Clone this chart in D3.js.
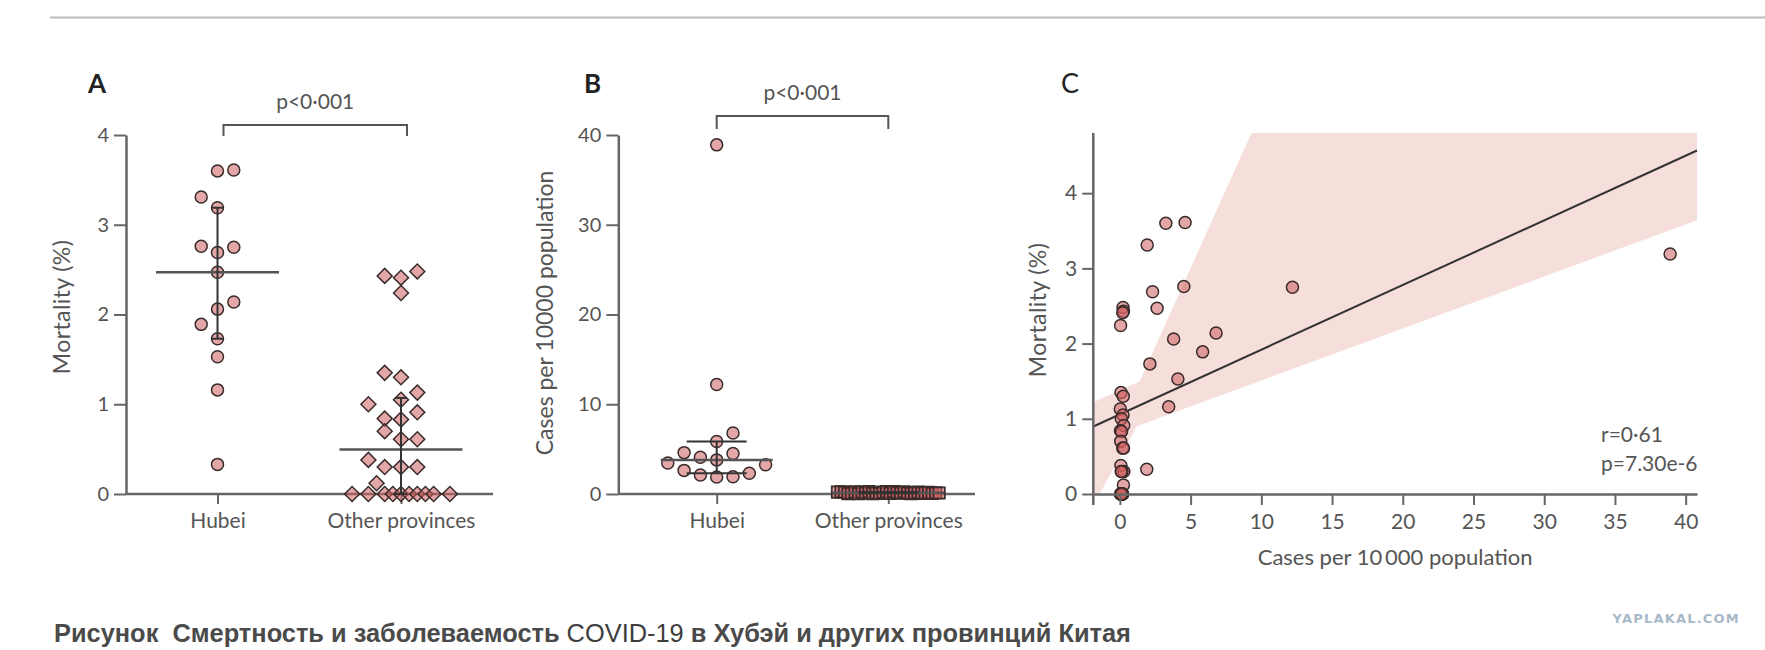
<!DOCTYPE html>
<html>
<head>
<meta charset="utf-8">
<script src="https://cdn.jsdelivr.net/npm/d3@7"></script>
<style>
  body { margin: 0; background: #fff; }
  svg text { font-family: Lato, "Open Sans", sans-serif; fill: #555; }
  .axis text { font-size: 20px; fill: #555; }
  .axis line { stroke: #666; stroke-width: 2; }
  .axis path { stroke: #666; stroke-width: 2.5; }
</style>
</head>
<body>
<svg id="chart" width="1765" height="650"></svg>
<script>
// Hubei cities: cases per 10 000 and mortality (%), same order in both arrays
var hubeiCases     = [4.61, 3.25, 1.93, 38.9, 4.52, 12.2, 2.31, 2.63, 6.8, 3.8, 5.85, 2.12, 4.1, 3.45, 1.9];
var hubeiMortality = [3.61, 3.60, 3.31, 3.19, 2.76, 2.75, 2.69, 2.47, 2.14, 2.06, 1.89, 1.73, 1.53, 1.16, 0.33];
var hubeiSlotA = [1, 0, -1, 0, -1, 1, 0, 0, 1, 0, -1, 0, 0, 0, 0];
var hubeiSlotB = [-2, 3, 1, 0, 1, 0, 2, -2, 1, 0, 0, -1, -1, -3, 0];

// Other provinces
var otherCases     = [0.22, 0.25, 0.2, 0.05, 0.08, 0.24, 0.03, 0.22, 0.1, 0.27, 0.04, 0.12, 0.06, 0.2, 0.26,
                      0.07, 0.28, 0.15, 0.09, 0.25, 0.1, 0.05, 0.15, 0.2, 0.08, 0.12, 0.18, 0.06, 0.14, 0.11];
var otherMortality = [2.48, 2.43, 2.41, 2.24, 1.35, 1.30, 1.13, 1.05, 1.00, 0.91, 0.84, 0.83, 0.70, 0.61, 0.61,
                      0.38, 0.30, 0.30, 0.30, 0.12, 0, 0, 0, 0, 0, 0, 0, 0, 0, 0];
var otherSlotA = [1, -1, 0, 0, -1, 0, 1, 0, -2, 1, -1, 0, -1, 0, 1,
                  -2, -1, 0, 1, -1.5, -3, -2, -1, -0.5, 0, 0.5, 1, 1.5, 2, 3];

var groups = ["Hubei", "Other provinces"];
var mortalityTicks = [0, 1, 2, 3, 4];
var casesTicks = [0, 10, 20, 30, 40];
var scatterXTicks = [0, 5, 10, 15, 20, 25, 30, 35, 40];

// Confidence band of panel C, as drawn (clipped to the plot)
var bandUpperX = [-1.88, 1.4, 9.3, 40.8];
var bandUpperY = [1.22, 1.5, 4.8, 4.8];
var bandLowerX = [-1.88, 1.2, 40.8];
var bandLowerY = [-0.15, 0.9, 3.64];

var dotFill = "rgba(205, 95, 95, 0.55)";
var dotStroke = "#3a2b2b";
var intFmt = d3.format("d");

var svg = d3.select("#chart");

// Rule at the top of the page
svg.append("line")
    .attr("x1", 50).attr("x2", 1765)
    .attr("y1", 17.5).attr("y2", 17.5)
    .attr("stroke", "#bbb")
    .attr("stroke-width", 2);

// Quartile the way the original software does it: position (n + 1) * p
function quart(values, p) {
  var s = values.slice().sort(d3.ascending);
  var pos = (s.length + 1) * p;
  var lo = Math.floor(pos);
  if (lo < 1) return s[0];
  if (lo >= s.length) return s[s.length - 1];
  return s[lo - 1] + (pos - lo) * (s[lo] - s[lo - 1]);
}

// Panel with two dot-plot columns, median line and interquartile bar
function stripPanel(cfg) {
  var g = svg.append("g");
  var y = d3.scaleLinear().domain(cfg.yDomain).range([494, 135]);
  var x = d3.scalePoint().domain(groups).range(cfg.catRange).padding(0.5);
  var slot = d3.scaleLinear().domain([0, 1]).range([0, 16.3]);

  g.append("g")
      .attr("class", "axis")
      .attr("transform", "translate(" + cfg.axisX + ",0)")
      .call(d3.axisLeft(y).tickValues(cfg.yTicks).tickFormat(intFmt)
              .tickSize(12).tickPadding(5).tickSizeOuter(0));

  var xa = g.append("g")
      .attr("class", "axis")
      .attr("transform", "translate(0,494)")
      .call(d3.axisBottom(x).tickSize(10).tickPadding(9));
  xa.select(".domain").remove();
  xa.append("line")
      .attr("x1", cfg.axisX).attr("x2", cfg.axisEnd)
      .style("stroke-width", 2.5);
  xa.selectAll("text").style("font-size", "21px");

  cfg.series.forEach(function(s) {
    var cx = x(s.group);
    var sym = d3.symbol().type(s.symbol).size(s.size);

    g.append("g").selectAll("path")
        .data(s.values)
      .enter()
      .append("path")
        .attr("d", sym)
        .attr("transform", function(d, i) {
          return "translate(" + (cx + slot(s.slots[i])) + "," + y(d) + ")" + (s.rotate ? " rotate(45)" : "");
        })
        .attr("fill", dotFill)
        .attr("stroke", dotStroke)
        .attr("stroke-width", s.strokeWidth || 1.5);

    var med = quart(s.values, 0.5), q1 = quart(s.values, 0.25), q3 = quart(s.values, 0.75);
    g.append("line")
        .attr("x1", cx - cfg.medHalf).attr("x2", cx + cfg.medHalf)
        .attr("y1", y(med)).attr("y2", y(med))
        .attr("stroke", "#555").attr("stroke-width", 2.5);
    g.append("line")
        .attr("x1", cx).attr("x2", cx)
        .attr("y1", y(q1)).attr("y2", y(q3))
        .attr("stroke", "#333").attr("stroke-width", 2);
    [q1, q3].forEach(function(q) {
      g.append("line")
          .attr("x1", cx - cfg.capHalf).attr("x2", cx + cfg.capHalf)
          .attr("y1", y(q)).attr("y2", y(q))
          .attr("stroke", "#333").attr("stroke-width", 2);
    });
  });

  // significance bracket
  var bx1 = x(groups[0]) + cfg.bracketShift, bx2 = x(groups[1]) + cfg.bracketShift;
  g.append("path")
      .attr("d", "M" + bx1 + "," + cfg.bracketBottom + "V" + cfg.bracketTop + "H" + bx2 + "V" + cfg.bracketBottom)
      .attr("fill", "none")
      .attr("stroke", "#555")
      .attr("stroke-width", 2);
  g.append("text")
      .attr("x", (bx1 + bx2) / 2)
      .attr("y", cfg.bracketTop - 16)
      .attr("text-anchor", "middle")
      .style("font-size", "21px")
      .text("p<0·001");

  // panel letter
  g.append("text")
      .attr("x", cfg.letterX).attr("y", 93)
      .style("font-size", "26px").style("font-weight", "bold").style("fill", "#222")
      .text(cfg.letter);

  // y axis title
  g.append("text")
      .attr("transform", "translate(" + cfg.titleX + "," + cfg.titleY + ") rotate(-90)")
      .attr("text-anchor", "middle")
      .style("font-size", "23px")
      .style("letter-spacing", cfg.titleSpacing)
      .text(cfg.title);
}

stripPanel({
  letter: "A", letterX: 88,
  yDomain: [0, 4], yTicks: mortalityTicks,
  axisX: 126, axisEnd: 493, catRange: [125.75, 492.75],
  medHalf: 61.5, capHalf: 6,
  bracketTop: 125, bracketBottom: 136, bracketShift: 6,
  titleX: 70, titleY: 307, titleSpacing: "0.4px", title: "Mortality (%)",
  series: [
    { group: "Hubei", values: hubeiMortality, slots: hubeiSlotA, symbol: d3.symbolCircle, size: 113 },
    { group: "Other provinces", values: otherMortality, slots: otherSlotA, symbol: d3.symbolSquare, size: 112, rotate: true }
  ]
});

stripPanel({
  letter: "B", letterX: 584,
  yDomain: [0, 40], yTicks: casesTicks,
  axisX: 618.3, axisEnd: 975, catRange: [630.9, 974.1],
  medHalf: 56, capHalf: 30,
  bracketTop: 116, bracketBottom: 129, bracketShift: 0,
  titleX: 553, titleY: 313, titleSpacing: "0px", title: "Cases per 10000 population",
  series: [
    { group: "Hubei", values: hubeiCases, slots: hubeiSlotB, symbol: d3.symbolCircle, size: 113 },
    { group: "Other provinces", values: otherCases,
      slots: otherCases.map(function(d, i) { return (i - 14.5) * 0.215; }),
      symbol: d3.symbolSquare, size: 130, strokeWidth: 1.8 }
  ]
});

// Panel C: mortality against cases, with least-squares line
var xC = d3.scaleLinear().domain([-1.88, 40.8]).range([1093.3, 1697]);
var yC = d3.scaleLinear().domain([0, 4.8]).range([494, 133]);
var gC = svg.append("g");

gC.append("clipPath")
    .attr("id", "clipC")
  .append("rect")
    .attr("x", xC(-1.88)).attr("y", yC(4.8))
    .attr("width", xC(40.8) - xC(-1.88))
    .attr("height", yC(0) - yC(4.8));

var bandPts = bandUpperX.map(function(d, i) { return [d, bandUpperY[i]]; })
    .concat(bandLowerX.map(function(d, i) { return [d, bandLowerY[i]]; }).reverse());
gC.append("path")
    .attr("clip-path", "url(#clipC)")
    .attr("d", d3.line().x(function(d) { return xC(d[0]); }).y(function(d) { return yC(d[1]); })(bandPts) + "Z")
    .attr("fill", "#f6dedb");

var allX = hubeiCases.concat(otherCases);
var allY = hubeiMortality.concat(otherMortality);
var mx = d3.mean(allX), my = d3.mean(allY);
var sxy = d3.sum(allX, function(d, i) { return (d - mx) * (allY[i] - my); });
var sxx = d3.sum(allX, function(d) { return (d - mx) * (d - mx); });
var slope = sxy / sxx, intercept = my - slope * mx;

gC.append("line")
    .attr("x1", xC(-1.88)).attr("x2", xC(40.8))
    .attr("y1", yC(intercept + slope * -1.88)).attr("y2", yC(intercept + slope * 40.8))
    .attr("stroke", "#333")
    .attr("stroke-width", 2);

gC.append("g").selectAll("circle")
    .data(allX)
  .enter()
  .append("circle")
    .attr("cx", function(d) { return xC(d); })
    .attr("cy", function(d, i) { return yC(allY[i]); })
    .attr("r", 6)
    .attr("fill", dotFill)
    .attr("stroke", dotStroke)
    .attr("stroke-width", 1.5);

var yaC = gC.append("g")
    .attr("class", "axis")
    .attr("transform", "translate(" + xC(-1.88) + ",0)")
    .call(d3.axisLeft(yC).tickValues(mortalityTicks).tickFormat(intFmt)
            .tickSize(11).tickPadding(5).tickSizeOuter(0));
yaC.select(".domain").attr("d", "M0," + (yC(0) + 11) + "V" + yC(4.8));
yaC.selectAll("text").style("font-size", "21px");

var xaC = gC.append("g")
    .attr("class", "axis")
    .attr("transform", "translate(0," + yC(0) + ")")
    .call(d3.axisBottom(xC).tickValues(scatterXTicks).tickFormat(intFmt)
            .tickSize(11).tickPadding(9).tickSizeOuter(0));
xaC.selectAll("text").style("font-size", "21px");

gC.append("text")
    .attr("x", 1061).attr("y", 93)
    .style("font-size", "27px").style("fill", "#222")
    .text("C");

gC.append("text")
    .attr("transform", "translate(1046,310) rotate(-90)")
    .attr("text-anchor", "middle")
    .style("font-size", "23px")
    .style("letter-spacing", "0.4px")
    .text("Mortality (%)");

gC.append("text")
    .attr("x", (xC(-1.88) + xC(40.8)) / 2).attr("y", 565)
    .attr("text-anchor", "middle")
    .style("font-size", "22px")
    .text("Cases per 10\u2009000 population");

gC.append("text")
    .attr("x", 1601).attr("y", 442)
    .style("font-size", "21px")
    .text("r=0·61");
gC.append("text")
    .attr("x", 1601).attr("y", 471)
    .style("font-size", "21px")
    .text("p=7.30e-6");

// Caption under the figure
var cap = svg.append("text")
    .attr("x", 54).attr("y", 642)
    .style("font-family", "'Liberation Sans', Arial, sans-serif")
    .style("font-size", "25.4px")
    .style("font-weight", "bold")
    .style("fill", "#4a4a4a");
cap.append("tspan").text("Рисунок\u00a0\u00a0Смертность и заболеваемость ");
cap.append("tspan").style("font-weight", "normal").style("fill", "#3e3e3e").text("COVID-19");
cap.append("tspan").text(" в Хубэй и других провинций Китая");

svg.append("text")
    .attr("x", 1740).attr("y", 623)
    .attr("text-anchor", "end")
    .style("font-family", "'DejaVu Sans', sans-serif")
    .style("font-size", "13px")
    .style("font-weight", "bold")
    .style("letter-spacing", "1.2px")
    .style("fill", "#a9b9c9")
    .text("YAPLAKAL.COM");
</script>
</body>
</html>
